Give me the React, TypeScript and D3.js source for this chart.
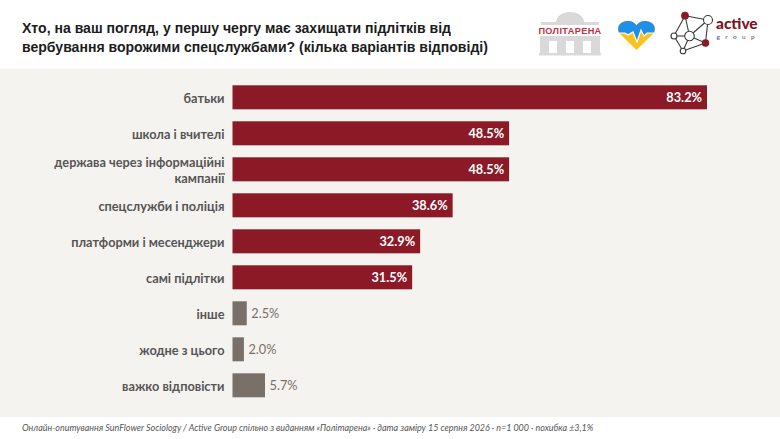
import { useEffect, useRef } from "react"
import * as d3 from "d3"

const categories = ["батьки", "школа і вчителі", "держава через інформаційні\nкампанії", "спецслужби і поліція", "платформи і месенджери", "самі підлітки", "інше", "жодне з цього", "важко відповісти"]
const values = [83.2, 48.5, 48.5, 38.6, 32.9, 31.5, 2.5, 2.0, 5.7]
const muted = ["інше", "жодне з цього", "важко відповісти"]
const titleLines = ["Хто, на ваш погляд, у першу чергу має захищати підлітків від", "вербування ворожими спецслужбами? (кілька варіантів відповіді)"]
const footnote = "Онлайн-опитування SunFlower Sociology / Active Group спільно з виданням «Політарена» · дата заміру 15 серпня 2026 · n=1 000 · похибка ±3,1%"

const RED = "#8b1a26"
const GREY = "#7a706a"
const LATO = "Lato, sans-serif"

function drawLogos(svg: d3.Selection<SVGSVGElement, unknown, null, undefined>) {
  // Політарена
  const p = svg.append("g").attr("fill", "#d9d9d9")
  p.append("path").attr("d", "M556 22 A14 10 0 0 1 584 22 Z")
  p.append("rect").attr("x", 541).attr("y", 22).attr("width", 58).attr("height", 3)
  p.append("rect").attr("x", 540).attr("y", 36).attr("width", 60).attr("height", 5)
  ;[540, 557, 574, 591].forEach(x => p.append("rect").attr("x", x).attr("y", 40).attr("width", 9).attr("height", 13))
  p.append("rect").attr("x", 539).attr("y", 53).attr("width", 62).attr("height", 2.5)
  svg.append("text").attr("x", 570).attr("y", 33.5).attr("text-anchor", "middle")
    .style("font-family", "'Liberation Sans', sans-serif").style("font-weight", 700).style("font-size", "9.2px")
    .style("letter-spacing", "0.35px").style("fill", "#c0323f").text("ПОЛІТАРЕНА")

  // серце
  svg.append("path").attr("d", "M636.5 50 L621 35 C614 26 621 21 628 21 C632 21 635 23 636.5 25.5 C638 23 641 21 645 21 C652 21 659 26 652 35 Z").attr("fill", "#f9c31f")
  svg.append("path").attr("d", "M619 33 C616 25 622 21 628 21 C632 21 635 23 636.5 25.5 C638 23 641 21 645 21 C651 21 657 25 654 33 L647 33 L644 36 L641 30 L637 42 L633 32 L628 35 L625 33 Z").attr("fill", "#1f8fe8")
  svg.append("path").attr("d", "M619 33 L625 33 L628 35 L633 32 L637 42 L641 30 L644 36 L647 33 L654 33").attr("fill", "none").attr("stroke", "#fff").attr("stroke-width", 1.2)

  // Active Group
  const edges = [[685, 15.7, 708, 20], [685, 15.7, 674, 36], [685, 15.7, 689.5, 36], [708, 20, 689.5, 36], [708, 20, 705.5, 43], [674, 36, 683, 51], [689.5, 36, 683, 51], [689.5, 36, 705.5, 43], [683, 51, 705.5, 43], [674, 36, 689.5, 36]]
  svg.append("g").selectAll("line").data(edges).join("line")
    .attr("x1", d => d[0]).attr("y1", d => d[1]).attr("x2", d => d[2]).attr("y2", d => d[3])
    .attr("stroke", "#3a3a3a").attr("stroke-width", 1.1)
  const nodes = [[685, 15.7, 3.3, RED], [708, 20, 4.5, "#fff"], [674, 36, 3, "#fff"], [689.5, 36, 4.8, "#fff"], [705.5, 43, 3.2, RED], [683, 51, 2.8, "#fff"]]
  svg.append("g").selectAll("circle").data(nodes).join("circle")
    .attr("cx", d => d[0] as number).attr("cy", d => d[1] as number).attr("r", d => d[2] as number)
    .attr("fill", d => d[3] as string).attr("stroke", d => d[3] === RED ? RED : "#3a3a3a").attr("stroke-width", 1.1)
  svg.append("text").attr("x", 716).attr("y", 29.3).style("font-family", LATO).style("font-weight", 900).style("font-size", "15.4px").style("fill", "#7a1522").text("active")
  svg.append("text").attr("x", 716.5).attr("y", 38.5).style("font-family", LATO).style("font-size", "6.5px").style("letter-spacing", "5.4px").style("fill", "#555").text("group")
}

export default function App() {
  const ref = useRef<SVGSVGElement>(null)
  useEffect(() => {
    if (!ref.current) return
    const svg = d3.select(ref.current)
    svg.selectAll("*").remove()

    svg.append("rect").attr("width", 780).attr("height", 439).attr("fill", "#fff")
    svg.append("rect").attr("y", 68.5).attr("width", 780).attr("height", 348.5).attr("fill", "#f5f3f0")

    svg.append("g").selectAll("text").data(titleLines).join("text")
      .attr("x", 22).attr("y", (_, i) => 33 + i * 18.5)
      .style("font-family", "'Liberation Sans', Arial, sans-serif").style("font-weight", 700).style("font-size", "14.05px").style("fill", "#1c1c1c")
      .text(d => d)

    drawLogos(svg)

    const x = d3.scaleLinear().domain([0, 83.2]).range([232.5, 707])
    const y = d3.scaleBand().domain(categories).range([85.3, 397.3]).paddingInner(1 / 3)

    const axis = svg.append("g").attr("transform", "translate(232.5,0)").call(d3.axisLeft(y).tickSize(0).tickPadding(8))
    axis.select(".domain").remove()
    axis.selectAll<SVGTextElement, string>("text").each(function (d) {
      const t = d3.select(this).text(null).attr("dy", null)
      const lines = d.split("\n")
      lines.forEach((l, i) => {
        t.append("tspan").attr("x", -8).attr("y", (i - (lines.length - 1) / 2) * 16 + 5.5).text(l)
      })
    }).style("font-family", LATO).style("font-weight", 700).style("font-size", "12.75px").style("fill", "#555")

    svg.append("g").selectAll("rect").data(values).join("rect")
      .attr("x", x(0)).attr("y", (_, i) => y(categories[i])!)
      .attr("width", d => x(d) - x(0)).attr("height", y.bandwidth())
      .attr("fill", (_, i) => muted.includes(categories[i]) ? GREY : RED)

    svg.append("g").selectAll("text").data(values).join("text")
      .attr("x", (d, i) => muted.includes(categories[i]) ? x(d) + 4.5 : x(d) - 5)
      .attr("y", (_, i) => y(categories[i])! + y.bandwidth() / 2 + 5)
      .attr("text-anchor", (_, i) => muted.includes(categories[i]) ? "start" : "end")
      .style("font-family", LATO).style("font-size", "12.75px")
      .style("font-weight", (_, i) => muted.includes(categories[i]) ? 400 : 700)
      .style("fill", (_, i) => muted.includes(categories[i]) ? "#7a706a" : "#fff")
      .text(d => d.toFixed(1) + "%")

    svg.append("text").attr("x", 22).attr("y", 431)
      .style("font-family", LATO).style("font-style", "italic").style("font-size", "8.95px").style("fill", "#555")
      .text(footnote)
  }, [])
  return <svg ref={ref} width={780} height={439} style={{ position: "absolute", left: 0, top: 0, display: "block" }} />
}
